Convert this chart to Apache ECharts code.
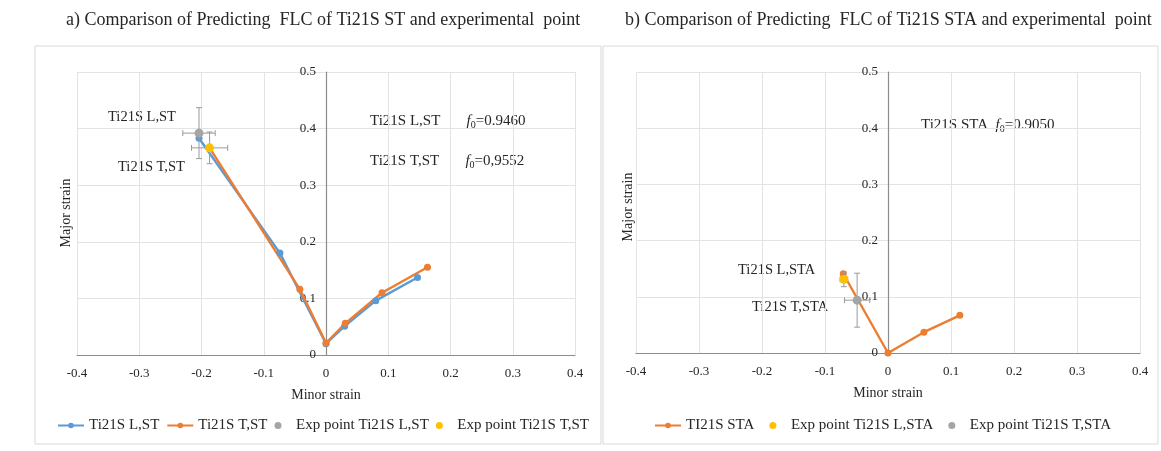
<!DOCTYPE html>
<html>
<head>
<meta charset="utf-8">
<script src="https://cdn.jsdelivr.net/npm/echarts@6/dist/echarts.min.js"></script>
<style>
  html, body { margin: 0; padding: 0; background: #fff; }
  #chart { width: 1161px; height: 451px; }
</style>
</head>
<body>
<div id="chart"></div>
<script>
// axis ticks (both panels)
var tickMin = -0.4, tickMax = 0.4, tickStep = 0.1;
var majorMax = 0.5;

// panel a) predicted FLC, [minor, major]
var flcLST = [[-0.204, 0.383], [-0.074, 0.18], [0, 0.02], [0.03, 0.051], [0.08, 0.096], [0.147, 0.137]];
var flcTST = [[-0.187, 0.366], [-0.042, 0.116], [0, 0.021], [0.031, 0.056], [0.09, 0.11], [0.163, 0.155]];
// experimental points: [minor, major, minorErr, majorErr]
var expLST = [[-0.204, 0.392, 0.026, 0.045]];
var expTST = [[-0.187, 0.366, 0.029, 0.028]];

// panel b)
var flcSTA = [[-0.071, 0.141], [0, 0], [0.057, 0.037], [0.114, 0.067]];
var expLSTA = [[-0.07, 0.131, 0.006, 0.013]];
var expTSTA = [[-0.049, 0.094, 0.02, 0.048]];

var serif = '"Liberation Serif", "Times New Roman", serif';
var cBlue = '#5b9bd5', cOrange = '#ed7d31', cGray = '#a5a5a5', cYellow = '#ffc000';
var ink = '#262626';

var chart = echarts.init(document.getElementById('chart'));

function xAx(idx) {
  return {
    gridIndex: idx, type: 'value', min: tickMin, max: tickMax, interval: tickStep,
    name: 'Minor strain', nameLocation: 'middle', nameGap: 33,
    nameTextStyle: { fontFamily: serif, fontSize: 14, color: ink },
    axisLine: { lineStyle: { color: '#8c8c8c', width: 1.2 } },
    axisTick: { show: false },
    axisLabel: { fontFamily: serif, fontSize: 13, color: ink, margin: 12 },
    splitLine: { lineStyle: { color: '#e3e3e3' } }
  };
}
// y axis drawn at minor strain = 0 (offset moves it from grid left to the zero line)
function yAx(idx, offset) {
  return {
    gridIndex: idx, type: 'value', min: 0, max: majorMax, interval: tickStep,
    position: 'left', offset: offset,
    axisLine: { show: true, onZero: false, lineStyle: { color: '#8c8c8c', width: 1.2 } },
    axisTick: { show: false },
    axisLabel: { fontFamily: serif, fontSize: 13, color: ink, margin: 10 },
    splitLine: { lineStyle: { color: '#e3e3e3' } }
  };
}

function errorBars(name, data, gi) {
  return {
    name: name + ' err', type: 'custom', xAxisIndex: gi, yAxisIndex: gi, z: 3,
    data: data, silent: true,
    renderItem: function (params, api) {
      var x = api.value(0), y = api.value(1), dx = api.value(2), dy = api.value(3);
      var l = api.coord([x - dx, y]), r = api.coord([x + dx, y]);
      var t = api.coord([x, y + dy]), b = api.coord([x, y - dy]);
      var st = { stroke: '#9a9a9a', lineWidth: 1 }, c = 3;
      return { type: 'group', children: [
        { type: 'line', shape: { x1: l[0], y1: l[1], x2: r[0], y2: r[1] }, style: st },
        { type: 'line', shape: { x1: l[0], y1: l[1] - c, x2: l[0], y2: l[1] + c }, style: st },
        { type: 'line', shape: { x1: r[0], y1: r[1] - c, x2: r[0], y2: r[1] + c }, style: st },
        { type: 'line', shape: { x1: t[0], y1: t[1], x2: b[0], y2: b[1] }, style: st },
        { type: 'line', shape: { x1: t[0] - c, y1: t[1], x2: t[0] + c, y2: t[1] }, style: st },
        { type: 'line', shape: { x1: b[0] - c, y1: b[1], x2: b[0] + c, y2: b[1] }, style: st }
      ]};
    }
  };
}
function lineS(name, data, color, gi) {
  return {
    name: name, type: 'line', xAxisIndex: gi, yAxisIndex: gi, data: data, z: 2,
    symbol: 'circle', symbolSize: 7, color: color,
    lineStyle: { width: 2.4, color: color }, itemStyle: { color: color }
  };
}
function expS(name, data, color, gi) {
  return {
    name: name, type: 'scatter', xAxisIndex: gi, yAxisIndex: gi, z: 4,
    data: data.map(function (d) { return [d[0], d[1]]; }),
    symbolSize: 9, itemStyle: { color: color, opacity: 1 }
  };
}

var f0Rich = {
  n: { fontFamily: serif, fontSize: 15, color: ink },
  i: { fontFamily: serif, fontSize: 15, fontStyle: 'italic', color: ink },
  s: { fontFamily: serif, fontSize: 10, color: ink, padding: [8, 0, 0, 0] }
};
function txt(x, y, text, size) {
  return { type: 'text', left: x, top: y,
    style: { text: text, fontFamily: serif, fontSize: size || 14, fill: ink } };
}
function richTxt(x, y, text) {
  return { type: 'text', left: x, top: y, style: { text: text, rich: f0Rich, fill: ink } };
}
var legendText = { fontFamily: serif, fontSize: 15, color: ink };

var option = {
  animation: false,
  backgroundColor: '#fff',
  grid: [
    { left: 77, right: 586, top: 72, bottom: 96 },
    { left: 636, right: 21, top: 72, bottom: 98 }
  ],
  xAxis: [xAx(0), xAx(1)],
  yAxis: [yAx(0, -249), yAx(1, -252)],
  legend: [
    { left: 52, top: 413, itemWidth: 26, itemHeight: 7, itemGap: 7, textStyle: legendText,
      data: ['Ti21S L,ST', 'Ti21S T,ST', 'Exp point Ti21S L,ST', 'Exp point Ti21S T,ST'] },
    { left: 649, top: 413, itemWidth: 26, itemHeight: 7, itemGap: 15, textStyle: legendText,
      data: ['TI21S STA', 'Exp point Ti21S L,STA', 'Exp point Ti21S T,STA'] }
  ],
  graphic: [
    { type: 'rect', shape: { x: 35, y: 46, width: 566, height: 398 },
      style: { fill: 'none', stroke: '#d9d9d9', lineWidth: 1 }, z: -10 },
    { type: 'rect', shape: { x: 603, y: 46, width: 555, height: 398 },
      style: { fill: 'none', stroke: '#d9d9d9', lineWidth: 1 }, z: -10 },
    txt(66, 11, 'a) Comparison of Predicting  FLC of Ti21S ST and experimental  point', 18),
    txt(625, 11, 'b) Comparison of Predicting  FLC of Ti21S STA and experimental  point', 18),
    { type: 'text', x: 66, y: 213, rotation: Math.PI / 2,
      style: { text: 'Major strain', fontFamily: serif, fontSize: 14, fill: ink, align: 'center', verticalAlign: 'middle' } },
    { type: 'text', x: 628, y: 207, rotation: Math.PI / 2,
      style: { text: 'Major strain', fontFamily: serif, fontSize: 14, fill: ink, align: 'center', verticalAlign: 'middle' } },
    txt(108, 110, 'Ti21S L,ST', 14.5),
    txt(118, 160, 'Ti21S T,ST', 14.5),
    richTxt(370, 114, '{n|Ti21S L,ST}{n|       }{i|f}{s|0}{n|=0.9460}'),
    richTxt(370, 154, '{n|Ti21S T,ST}{n|       }{i|f}{s|0}{n|=0,9552}'),
    txt(738, 263, 'Ti21S L,STA', 14.5),
    txt(752, 300, 'Ti21S T,STA', 14.5),
    richTxt(921, 118, '{n|Ti21S STA  }{i|f}{s|0}{n|=0.9050}')
  ],
  series: [
    lineS('Ti21S L,ST', flcLST, cBlue, 0),
    lineS('Ti21S T,ST', flcTST, cOrange, 0),
    errorBars('Exp point Ti21S L,ST', expLST, 0),
    errorBars('Exp point Ti21S T,ST', expTST, 0),
    expS('Exp point Ti21S L,ST', expLST, cGray, 0),
    expS('Exp point Ti21S T,ST', expTST, cYellow, 0),
    lineS('TI21S STA', flcSTA, cOrange, 1),
    errorBars('Exp point Ti21S L,STA', expLSTA, 1),
    errorBars('Exp point Ti21S T,STA', expTSTA, 1),
    expS('Exp point Ti21S L,STA', expLSTA, cYellow, 1),
    expS('Exp point Ti21S T,STA', expTSTA, cGray, 1)
  ]
};

chart.setOption(option);
</script>
</body>
</html>
